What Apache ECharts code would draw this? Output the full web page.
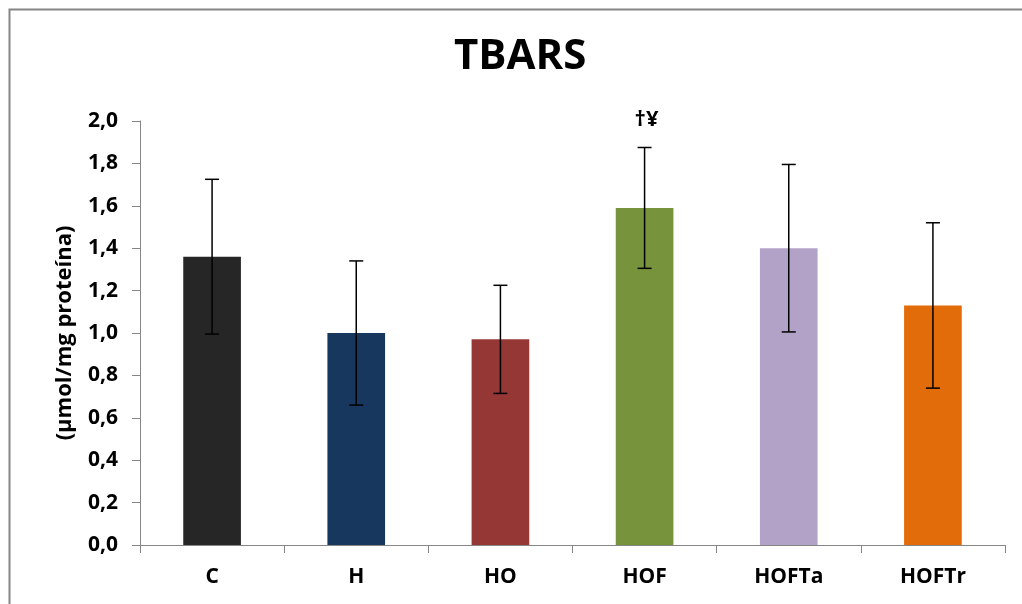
<!DOCTYPE html>
<html>
<head>
<meta charset="utf-8">
<script src="https://cdn.jsdelivr.net/npm/echarts@6/dist/echarts.min.js"></script>
<style>
  html, body { margin: 0; padding: 0; background: #fff; }
  #chart { width: 1022px; height: 604px; }
</style>
</head>
<body>
<div id="chart"></div>
<script>
// TBARS by group: mean and error (± half-range)
const categories = ['C', 'H', 'HO', 'HOF', 'HOFTa', 'HOFTr'];
const means = [1.36, 1.00, 0.97, 1.59, 1.40, 1.13];
const errors = [0.365, 0.34, 0.255, 0.285, 0.395, 0.39];
const marks = ['', '', '', '†¥', '', ''];
const barColors = ['#262626', '#17375E', '#953735', '#77933C', '#B3A2C7', '#E36C0A'];
const yTicks = { min: 0, max: 2, interval: 0.2 };

const font = '"Open Sans", "DejaVu Sans", sans-serif';

const chart = echarts.init(document.getElementById('chart'));

const errData = categories.map((c, i) => [i, means[i] - errors[i], means[i] + errors[i], marks[i]]);

chart.setOption({
  animation: false,
  backgroundColor: '#fff',
  title: {
    text: 'TBARS',
    left: 449,
    top: 31,
    textStyle: { fontFamily: font, fontWeight: 'bold', fontSize: 42, color: '#000' }
  },
  graphic: [{
    type: 'rect',
    left: 7, top: 7,
    shape: { width: 1040, height: 640 },
    style: { fill: 'none', stroke: '#868686', lineWidth: 2 },
    silent: true
  }],
  grid: { left: 140, right: 17, top: 121, bottom: 59 },
  xAxis: {
    type: 'category',
    data: categories,
    axisLine: { lineStyle: { color: '#868686', width: 1 } },
    axisTick: { show: true, alignWithLabel: false, length: 8, lineStyle: { color: '#868686' } },
    axisLabel: { color: '#000', fontFamily: font, fontWeight: 'bold', fontSize: 21, margin: 22 }
  },
  yAxis: {
    type: 'value',
    min: yTicks.min, max: yTicks.max, interval: yTicks.interval,
    name: '(µmol/mg proteína)',
    nameLocation: 'middle',
    nameGap: 64,
    nameRotate: 90,
    nameTextStyle: { color: '#000', fontFamily: font, fontWeight: 'bold', fontSize: 22 },
    axisLine: { show: true, lineStyle: { color: '#868686', width: 1 } },
    axisTick: { show: true, length: 8, lineStyle: { color: '#868686' } },
    splitLine: { show: false },
    axisLabel: {
      color: '#000', fontFamily: font, fontWeight: 'bold', fontSize: 21, margin: 22,
      formatter: v => v.toFixed(1).replace('.', ',')
    }
  },
  series: [
    {
      type: 'bar',
      data: means.map((v, i) => ({ value: v, itemStyle: { color: barColors[i] } })),
      barWidth: '40%'
    },
    {
      type: 'custom',
      data: errData,
      z: 10,
      renderItem: (params, api) => {
        const x = api.value(0);
        const lo = api.coord([x, api.value(1)]);
        const hi = api.coord([x, api.value(2)]);
        const cap = 7;
        const style = { stroke: '#000', lineWidth: 1.5 };
        const children = [
          { type: 'line', shape: { x1: lo[0], y1: lo[1], x2: hi[0], y2: hi[1] }, style },
          { type: 'line', shape: { x1: lo[0] - cap, y1: lo[1], x2: lo[0] + cap, y2: lo[1] }, style },
          { type: 'line', shape: { x1: hi[0] - cap, y1: hi[1], x2: hi[0] + cap, y2: hi[1] }, style }
        ];
        const txt = api.value(3);
        if (txt) {
          children.push({
            type: 'text',
            style: {
              text: txt, x: hi[0] + 2, y: hi[1] - 28,
              align: 'center', verticalAlign: 'middle',
              font: 'bold 22px ' + font, fill: '#000'
            }
          });
        }
        return { type: 'group', children };
      }
    }
  ]
});
</script>
</body>
</html>
